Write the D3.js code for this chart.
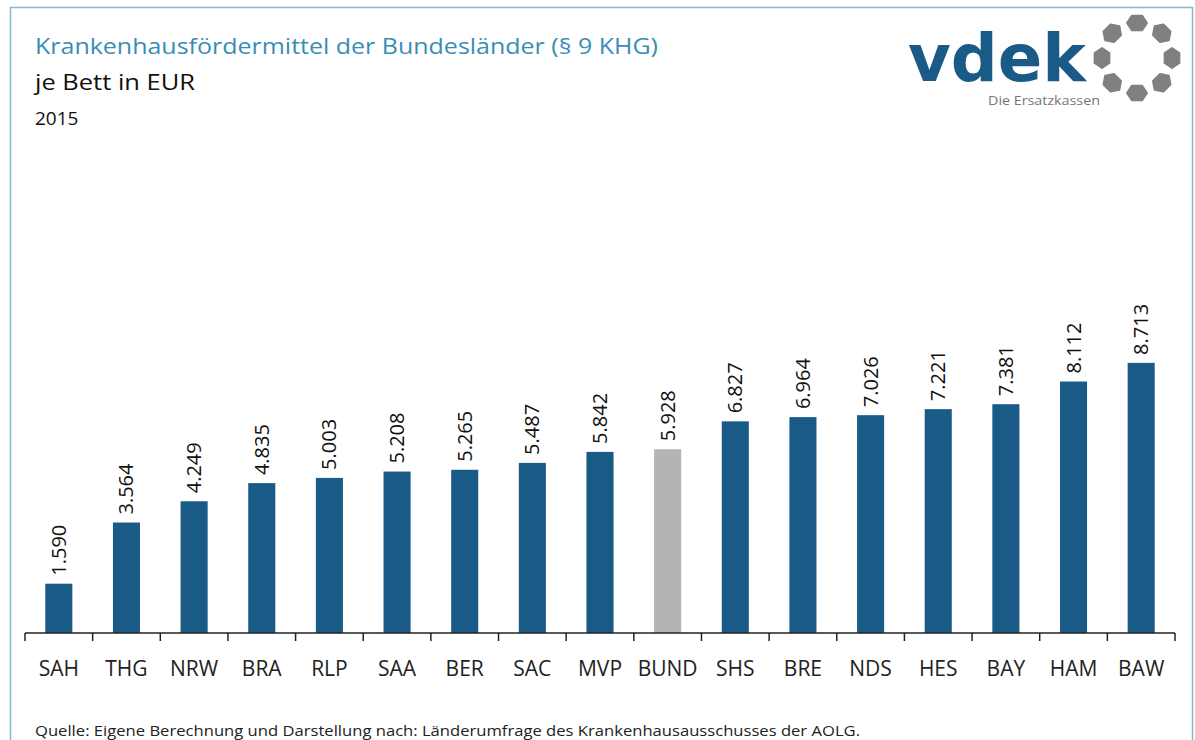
<!DOCTYPE html>
<html>
<head>
<meta charset="utf-8">
<script src="https://cdn.jsdelivr.net/npm/d3@7"></script>
<style>
  body { margin: 0; background: #fff; }
  svg { display: block; font-family: "Open Sans", "DejaVu Sans", sans-serif; }
</style>
</head>
<body>
<svg width="1195" height="740"></svg>
<script>
// Data
const laender = ["SAH", "THG", "NRW", "BRA", "RLP", "SAA", "BER", "SAC", "MVP", "BUND", "SHS", "BRE", "NDS", "HES", "BAY", "HAM", "BAW"];
const werte = [1590, 3564, 4249, 4835, 5003, 5208, 5265, 5487, 5842, 5928, 6827, 6964, 7026, 7221, 7381, 8112, 8713];
const labels = ["1.590", "3.564", "4.249", "4.835", "5.003", "5.208", "5.265", "5.487", "5.842", "5.928", "6.827", "6.964", "7.026", "7.221", "7.381", "8.112", "8.713"];

let svg = d3.select("svg"),
    width = +svg.attr("width"),
    height = +svg.attr("height");

// frame
svg.append("rect")
    .attr("x", 10.5).attr("y", 7.5)
    .attr("width", 1182).attr("height", 760)
    .attr("fill", "none")
    .attr("stroke", "#86b8cc")
    .attr("stroke-width", 1.5)

// scales
let x = d3.scaleBand()
    .domain(laender)
    .range([25, 1175])
    .paddingInner(0.6)
    .paddingOuter(0.3)

let y = d3.scaleLinear()
    .domain([0, 10000])
    .range([633, 323])

// bars
svg.append("g")
    .selectAll("rect")
    .data(laender)
    .enter()
    .append("rect")
    .attr("x", d => x(d))
    .attr("y", (d, i) => y(werte[i]))
    .attr("width", x.bandwidth())
    .attr("height", (d, i) => y(0) - y(werte[i]))
    .attr("fill", d => d == "BUND" ? "#b4b4b4" : "#1a5a86")

// value labels (rotated)
svg.append("g")
    .selectAll("text")
    .data(laender)
    .enter()
    .append("text")
    .attr("transform", (d, i) => "translate(" + (x(d) + x.bandwidth() / 2 + 7) + "," + (y(werte[i]) - 8) + ") rotate(-90)")
    .attr("text-anchor", "start")
    .style("font-size", "20px")
    .style("fill", "#111")
    .text((d, i) => labels[i])

// axis: baseline + ticks at band edges
let edges = laender.map(d => x(d) - x.step() * x.paddingInner() / 2)
edges.push(1175)
edges[0] = 25

let axis = svg.append("g")
axis.append("line")
    .attr("x1", 25).attr("x2", 1175)
    .attr("y1", y(0)).attr("y2", y(0))
    .attr("stroke", "#222").attr("stroke-width", 1.5)
axis.selectAll("line.tick")
    .data(edges)
    .enter()
    .append("line")
    .attr("class", "tick")
    .attr("x1", d => d).attr("x2", d => d)
    .attr("y1", y(0)).attr("y2", y(0) + 8)
    .attr("stroke", "#222").attr("stroke-width", 1.5)

axis.selectAll("text")
    .data(laender)
    .enter()
    .append("text")
    .attr("x", d => x(d) + x.bandwidth() / 2)
    .attr("y", 676)
    .attr("text-anchor", "middle")
    .style("font-size", "21px")
    .style("fill", "#222")
    .text(d => d)

// titles
svg.append("text")
    .attr("x", 35).attr("y", 54)
    .style("font-size", "21px")
    .style("font-weight", "500")
    .style("fill", "#3a8db5")
    .attr("textLength", 623)
    .attr("lengthAdjust", "spacingAndGlyphs")
    .text("Krankenhausfördermittel der Bundesländer (§ 9 KHG)")

svg.append("text")
    .attr("x", 35).attr("y", 90)
    .style("font-size", "21px")
    .style("fill", "#111")
    .attr("textLength", 160)
    .attr("lengthAdjust", "spacingAndGlyphs")
    .text("je Bett in EUR")

svg.append("text")
    .attr("x", 35).attr("y", 125)
    .style("font-size", "19px")
    .style("fill", "#111")
    .text("2015")

// footer
svg.append("text")
    .attr("x", 35).attr("y", 736)
    .style("font-size", "15px")
    .style("fill", "#222")
    .attr("textLength", 825)
    .attr("lengthAdjust", "spacingAndGlyphs")
    .text("Quelle: Eigene Berechnung und Darstellung nach: Länderumfrage des Krankenhausausschusses  der AOLG.")

// logo
let logo = svg.append("g")
logo.append("text")
    .attr("x", 908).attr("y", 81)
    .style("font-family", "'DejaVu Sans', sans-serif")
    .style("font-weight", "bold")
    .style("font-size", "66px")
    .style("fill", "#1a5a86")
    .attr("textLength", 178)
    .attr("lengthAdjust", "spacingAndGlyphs")
    .text("vdek")

logo.append("text")
    .attr("x", 988).attr("y", 105)
    .style("font-size", "13px")
    .style("fill", "#777")
    .attr("textLength", 112)
    .attr("lengthAdjust", "spacingAndGlyphs")
    .text("Die Ersatzkassen")

// ring of 8 hexagonal blobs
let hexagon = d3.range(6).map(k => {
    let a = k * Math.PI / 3
    return [10 * Math.cos(a), 8.5 * Math.sin(a)]
})
let ring = d3.range(8)
logo.selectAll("path.dot")
    .data(ring)
    .enter()
    .append("path")
    .attr("class", "dot")
    .attr("d", d3.line().curve(d3.curveLinearClosed)(hexagon))
    .attr("transform", d => {
        let a = d * Math.PI / 4
        return "translate(" + (1137 + 35 * Math.sin(a)) + "," + (58 - 35 * Math.cos(a)) + ") rotate(" + (d * 45) + ")"
    })
    .attr("fill", "#808080")
    .attr("stroke", "#808080")
    .attr("stroke-width", 2)
    .attr("stroke-linejoin", "round")
</script>
</body>
</html>
